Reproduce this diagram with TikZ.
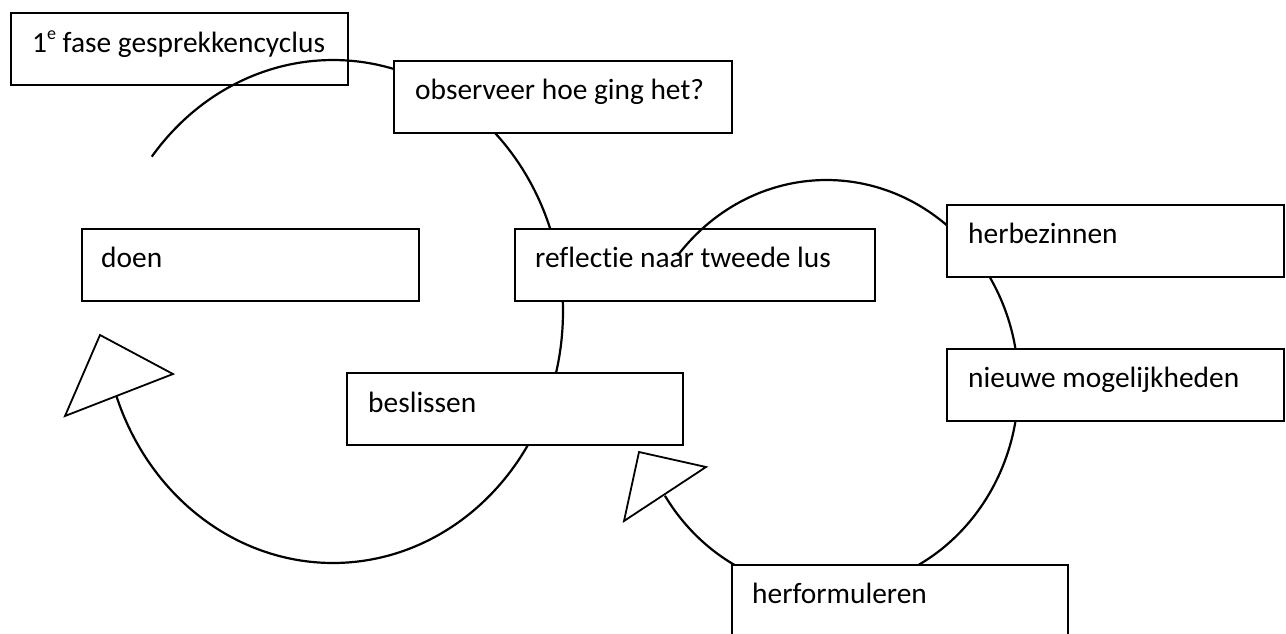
\documentclass[tikz,border=0pt]{standalone}
\usepackage{fontspec}
\setmainfont{Carlito}[Ligatures=NoCommon]
\begin{document}
\begin{tikzpicture}[x=1pt,y=-1pt,
  box/.style={draw=black, fill=white, line width=1.6pt, minimum height=72pt, minimum width=337pt, anchor=north west, inner sep=0pt},
  lbl/.style={anchor=base west, inner sep=0pt, font=\fontsize{29.4pt}{34pt}\selectfont},
  loop/.style={draw=black, line width=2.2pt},
  tip/.style={draw=black, fill=white, line width=1.8pt, line join=miter}]
\useasboundingbox (0,0) rectangle (1286,633);
\clip (0,0) rectangle (1286,633);
% first phase label box
\node[box] (fase) at (10,12) {};
\node[lbl] (fasetxt) at ([shift={(22,40)}]fase.north west) {1\raisebox{0.42em}{\fontsize{18pt}{18pt}\selectfont e} fase gesprekkencyclus};
% left loop
\draw[loop] plot[smooth, domain=142:-160.6, samples=160] ({333+230*cos(\x)}, {311.5-251.5*sin(\x)});
% boxes of first loop
\node[box, minimum width=338pt] (obs) at (393,60) {};
\node[lbl] (obstxt) at ([shift={(22,39)}]obs.north west) {observeer hoe ging het?};
\node[box] (doen) at (81,228) {};
\node[lbl] (doentxt) at ([shift={(20,39)}]doen.north west) {doen};
\node[box, minimum width=360pt] (refl) at (514,228) {};
\node[lbl] (refltxt) at ([shift={(21,39)}]refl.north west) {reflectie naar tweede lus};
\node[box, minimum width=336pt] (besl) at (346,372) {};
\node[lbl] (besltxt) at ([shift={(22,40)}]besl.north west) {beslissen};
% right loop
\draw[loop] plot[smooth, domain=140.9:-147.3, samples=160] ({826.5+192*cos(\x)}, {385-205*sin(\x)});
% boxes of second loop
\node[box] (herb) at (946,204) {};
\node[lbl] (herbtxt) at ([shift={(22,39)}]herb.north west) {herbezinnen};
\node[box] (nieuw) at (946,348) {};
\node[lbl] (nieuwtxt) at ([shift={(22,39)}]nieuw.north west) {nieuwe mogelijkheden};
\node[box, minimum width=336pt, minimum height=110pt] (herf) at (731,564) {};
\node[lbl] (herftxt) at ([shift={(21,39)}]herf.north west) {herformuleren};
% arrowheads
\draw[tip] (100,335) -- (173,374) -- (65,416) -- cycle;
\draw[tip] (639,452) -- (706,467) -- (624,521) -- cycle;
\end{tikzpicture}
\end{document}
